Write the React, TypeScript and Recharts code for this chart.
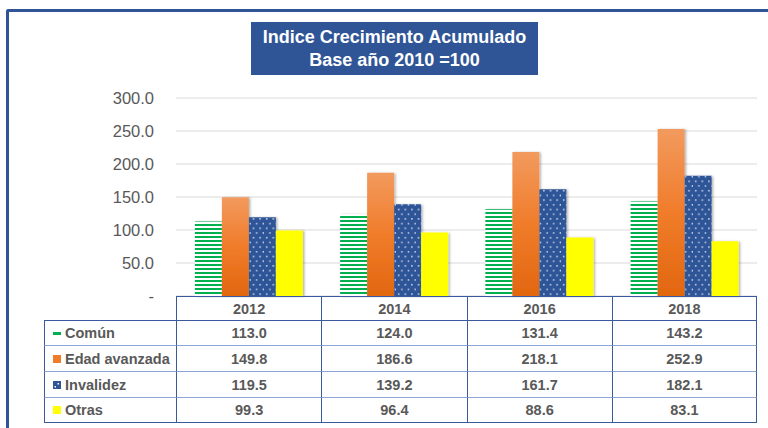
import React from 'react';
import { Bar, BarChart, CartesianGrid, XAxis, YAxis } from 'recharts';

const years = ['2012', '2014', '2016', '2018'];
const comun = [113.0, 124.0, 131.4, 143.2];
const edadAvanzada = [149.8, 186.6, 218.1, 252.9];
const invalidez = [119.5, 139.2, 161.7, 182.1];
const otras = [99.3, 96.4, 88.6, 83.1];
const yTicks = [0, 50, 100, 150, 200, 250, 300];

const series = [
  { key: 'comun', name: 'Común', values: comun, fill: 'url(#stripes)', icon: 'dash', color: '#00B050' },
  { key: 'edad', name: 'Edad avanzada', values: edadAvanzada, fill: 'url(#orangeGrad)', icon: 'square', color: '#F07C2A' },
  { key: 'invalidez', name: 'Invalidez', values: invalidez, fill: 'url(#dots)', icon: 'dots', color: '#2F5597' },
  { key: 'otras', name: 'Otras', values: otras, fill: '#FFFF00', icon: 'square', color: '#FFFF00' },
];

const data = years.map((year, i) => {
  const row: Record<string, string | number> = { year };
  series.forEach((s) => {
    row[s.key] = s.values[i];
  });
  return row;
});

const FONT = '"Liberation Sans", Arial, sans-serif';
const TEXT = '#595959';
const PLOT_LEFT = 176;
const PLOT_RIGHT = 757;
const LABEL_COL_LEFT = 44;
const colWidth = (PLOT_RIGHT - PLOT_LEFT) / years.length;
const rowHeights = [24, 25, 26, 26, 26];

const LegendIcon = ({ kind, color }: { kind: string; color: string }) => {
  if (kind === 'dash') {
    return <span style={{ display: 'inline-block', width: 8, height: 3, background: color, marginRight: 4, verticalAlign: 'middle' }} />;
  }
  if (kind === 'dots') {
    return (
      <svg width={8} height={8} style={{ marginRight: 4, verticalAlign: 'middle' }}>
        <rect width={8} height={8} fill={color} />
        <rect x={4.5} y={2} width={1.5} height={1.5} fill="#fff" />
        <rect x={1.5} y={5} width={1.5} height={1.5} fill="#fff" />
      </svg>
    );
  }
  return <span style={{ display: 'inline-block', width: 8, height: 8, background: color, marginRight: 4, verticalAlign: 'middle' }} />;
};

const DataTable = () => {
  const border = '1.5px solid #3A5A9E';
  const inner = '1.5px solid #8EA6D4';
  let top = 296;
  const rowTops = rowHeights.map((h) => {
    const t = top;
    top += h;
    return t;
  });
  return (
    <div style={{ position: 'absolute', left: 0, top: 0, fontFamily: FONT, color: TEXT, fontWeight: 'bold', fontSize: 14.5 }}>
      {/* header row */}
      {years.map((y, i) => (
        <div
          key={y}
          style={{
            position: 'absolute',
            left: PLOT_LEFT + i * colWidth,
            top: rowTops[0],
            width: colWidth,
            height: rowHeights[0],
            boxSizing: 'border-box',
            borderLeft: border,
            borderTop: border,
            borderRight: i === years.length - 1 ? border : undefined,
            display: 'flex',
            alignItems: 'center',
            justifyContent: 'center',
          }}
        >
          {y}
        </div>
      ))}
      {series.map((s, r) => (
        <React.Fragment key={s.key}>
          <div
            style={{
              position: 'absolute',
              left: LABEL_COL_LEFT,
              top: rowTops[r + 1],
              width: PLOT_LEFT - LABEL_COL_LEFT,
              height: rowHeights[r + 1],
              boxSizing: 'border-box',
              borderLeft: border,
              borderTop: r === 0 ? border : inner,
              borderBottom: r === series.length - 1 ? border : undefined,
              display: 'flex',
              alignItems: 'center',
              paddingLeft: 8,
              whiteSpace: 'nowrap',
            }}
          >
            <LegendIcon kind={s.icon} color={s.color} />
            {s.name}
          </div>
          {s.values.map((v, i) => (
            <div
              key={i}
              style={{
                position: 'absolute',
                left: PLOT_LEFT + i * colWidth,
                top: rowTops[r + 1],
                width: colWidth,
                height: rowHeights[r + 1],
                boxSizing: 'border-box',
                borderLeft: border,
                borderTop: r === 0 ? border : inner,
                borderBottom: r === series.length - 1 ? border : undefined,
                borderRight: i === years.length - 1 ? border : undefined,
                display: 'flex',
                alignItems: 'center',
                justifyContent: 'center',
              }}
            >
              {v.toFixed(1)}
            </div>
          ))}
        </React.Fragment>
      ))}
    </div>
  );
};

const App = () => {
  return (
    <div style={{ position: 'absolute', left: 0, top: 0, width: 768, height: 428, overflow: 'hidden', background: '#fff' }}>
      {/* outer frame */}
      <div
        style={{
          position: 'absolute',
          left: 6,
          top: 9,
          width: 780,
          height: 440,
          borderTop: '3.5px solid #2F5597',
          borderLeft: '3.5px solid #2F5597',
          borderTopLeftRadius: 3,
        }}
      />
      <BarChart
        width={768}
        height={428}
        data={data}
        margin={{ top: 98, right: 768 - PLOT_RIGHT, bottom: 428 - 296, left: 0 }}
        barGap={0}
        barCategoryGap="13%"
        style={{ position: 'absolute', left: 0, top: 0 }}
      >
        <defs>
          <pattern id="stripes" patternUnits="userSpaceOnUse" width="8" height="4">
            <rect width="8" height="4" fill="#FFFFFF" />
            <rect width="8" height="2" fill="#00B050" />
          </pattern>
          <pattern id="dots" patternUnits="userSpaceOnUse" width="6.6" height="9.4">
            <rect width="6.6" height="9.4" fill="#2F5597" />
            <rect x="2" y="2" width="1.4" height="1.4" fill="#E8EEF8" />
            <rect x="5.3" y="6.7" width="1.4" height="1.4" fill="#E8EEF8" />
          </pattern>
          <linearGradient id="orangeGrad" x1="0" y1="0" x2="0" y2="1">
            <stop offset="0%" stopColor="#F29A5E" />
            <stop offset="50%" stopColor="#F07C2A" />
            <stop offset="100%" stopColor="#E2670F" />
          </linearGradient>
          <filter id="shadow" x="-20%" y="-5%" width="140%" height="110%">
            <feDropShadow dx="1.5" dy="0.5" stdDeviation="1" floodColor="#000" floodOpacity="0.3" />
          </filter>
        </defs>
        <CartesianGrid horizontal vertical={false} stroke="#D9D9D9" strokeWidth={1.2} />
        <XAxis dataKey="year" hide />
        <YAxis
          domain={[0, 300]}
          ticks={yTicks}
          width={PLOT_LEFT}
          axisLine={false}
          tickLine={false}
          tickSize={6}
          tickMargin={16}
          interval={0}
          tickFormatter={(v: number) => (v === 0 ? '-' : v.toFixed(1))}
          tick={{ fill: TEXT, fontSize: 16.5, fontFamily: FONT }}
        />
        {series.map((s) => (
          <Bar key={s.key} dataKey={s.key} name={s.name} fill={s.fill} filter="url(#shadow)" isAnimationActive={false} />
        ))}
      </BarChart>
      <DataTable />
      {/* title box */}
      <div
        style={{
          position: 'absolute',
          left: 251,
          top: 22,
          width: 287,
          height: 53,
          background: '#2F5597',
          color: '#fff',
          fontFamily: FONT,
          fontWeight: 'bold',
          fontSize: 18,
          lineHeight: '23px',
          textAlign: 'center',
          display: 'flex',
          flexDirection: 'column',
          justifyContent: 'center',
        }}
      >
        <div>Indice Crecimiento Acumulado</div>
        <div>Base año 2010 =100</div>
      </div>
    </div>
  );
};

export default App;
